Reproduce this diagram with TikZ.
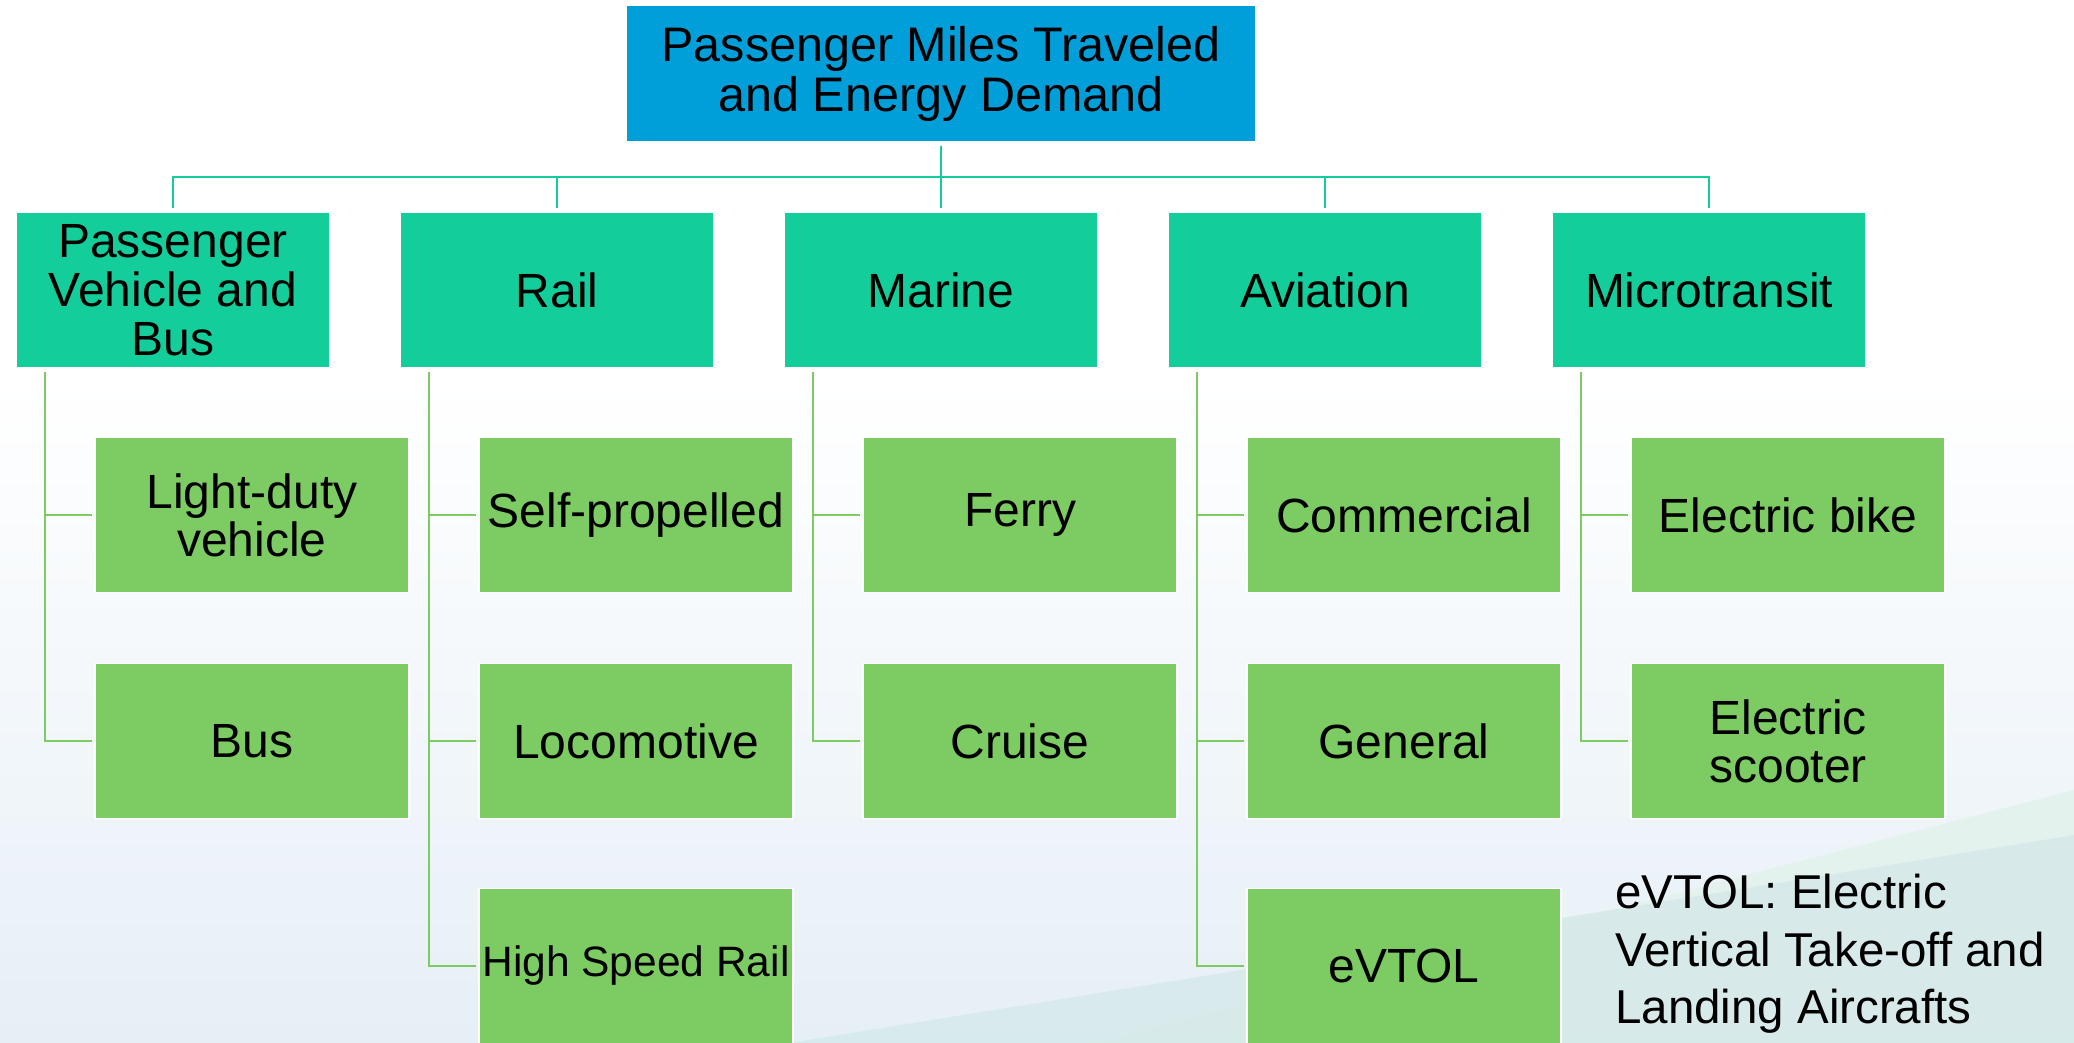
\documentclass[tikz,border=0pt]{standalone}
\usepackage{fontspec}
\setmainfont{Liberation Sans}
\usetikzlibrary{positioning,calc}

\definecolor{rootblue}{HTML}{009FDA}
\definecolor{catteal}{HTML}{13CE9A}
\definecolor{leafgreen}{HTML}{7DCB63}
\definecolor{bgblue}{HTML}{E6EFF6}
\definecolor{bgmint}{HTML}{E2F2EC}
\definecolor{bgsea}{HTML}{D2E8E8}

\tikzset{
  box/.style={rectangle, draw=white, line width=1.5pt, inner sep=0pt,
    align=center, text=black, minimum width=314pt},
  rootbox/.style={box, fill=rootblue, minimum width=630pt, minimum height=137pt,
    font=\fontsize{48.5}{50}\selectfont},
  catbox/.style={box, fill=catteal, minimum height=156pt,
    font=\fontsize{48}{49}\selectfont},
  leafbox/.style={box, fill=leafgreen, minimum height=155pt,
    font=\fontsize{48}{48}\selectfont},
  busline/.style={draw=catteal, line width=2.5pt},
  leafline/.style={draw=leafgreen, line width=2.2pt},
  note/.style={align=left, anchor=north west, inner sep=0pt,
    font=\fontsize{47.5}{57.5}\selectfont},
}

\begin{document}
\begin{tikzpicture}[x=1pt, y=-1pt]
  % canvas and soft background wash
  \useasboundingbox (0,0) rectangle (2074,1043);
  \fill[white] (0,0) rectangle (2074,1043);
  \shade[top color=white, bottom color=bgblue] (0,380) rectangle (2074,1043);
  \fill[bgmint, opacity=0.8] (1100,1043) -- (2074,790) -- (2074,1043) -- cycle;
  \fill[bgsea, opacity=0.7] (790,1043) -- (2074,835) -- (2074,1043) -- cycle;

  % root
  \node[rootbox] (root) at (941,73.5) {Passenger Miles Traveled\\and Energy Demand};

  % categories
  \node[catbox] (pv)    at (173,290)  {Passenger\\Vehicle and\\Bus};
  \node[catbox] (rail)  at (557,290)  {Rail};
  \node[catbox] (mar)   at (941,290)  {Marine};
  \node[catbox] (avi)   at (1325,290) {Aviation};
  \node[catbox] (micro) at (1709,290) {Microtransit};

  % leaves
  \node[leafbox] (ldv)   at (252,515)  {Light-duty\\vehicle};
  \node[leafbox] (bus)   at (252,741)  {Bus};
  \node[leafbox] (self)  at (636,515)  {Self-propelled};
  \node[leafbox] (loco)  at (636,741)  {Locomotive};
  \node[leafbox, font=\fontsize{42.5}{44}\selectfont] (hsr) at (636,966) {High Speed Rail};
  \node[leafbox] (ferry) at (1020,515) {Ferry};
  \node[leafbox] (cruise) at (1020,741) {Cruise};
  \node[leafbox] (comm)  at (1404,515) {Commercial};
  \node[leafbox] (gen)   at (1404,741) {General};
  \node[leafbox] (evtol) at (1404,966) {eVTOL};
  \node[leafbox] (ebike) at (1788,515) {Electric bike};
  \node[leafbox] (escoot) at (1788,741) {Electric\\scooter};

  % footnote
  \node[note] (fn) at (1615,874) {eVTOL: Electric\\Vertical Take-off and\\Landing Aircrafts};

  % root to categories
  \coordinate (busy) at (0,177);
  \foreach \c in {pv,rail,mar,avi,micro}
    \draw[busline] ([yshift=-3]root.south) -- (root.south |- busy) -| ([yshift=3]\c.north);

  % categories to leaves
  \foreach \p/\l in {pv/ldv,pv/bus,rail/self,rail/loco,rail/hsr,mar/ferry,mar/cruise,
                     avi/comm,avi/gen,avi/evtol,micro/ebike,micro/escoot}
    \draw[leafline] ([xshift=30,yshift=-3]\p.south west) |- ([xshift=-2]\l.west);
\end{tikzpicture}
\end{document}
